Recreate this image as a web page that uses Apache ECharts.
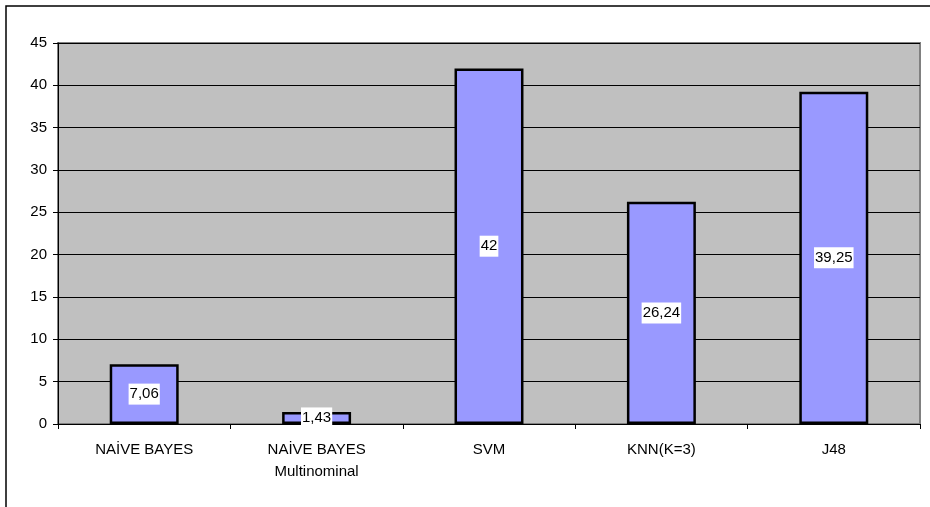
<!DOCTYPE html>
<html>
<head>
<meta charset="utf-8">
<script src="https://cdn.jsdelivr.net/npm/echarts@6/dist/echarts.min.js"></script>
<style>
  html, body { margin: 0; padding: 0; background: #fff; }
  #chart { width: 930px; height: 507px; }
</style>
</head>
<body>
<div id="chart"></div>
<script>
// Classifier names and scores
const categories = ['NAİVE BAYES', 'NAİVE BAYES\nMultinominal', 'SVM', 'KNN(K=3)', 'J48'];
const scores = [7.06, 1.43, 42, 26.24, 39.25];
const yTicks = { min: 0, max: 45, interval: 5 };

const chart = echarts.init(document.getElementById('chart'), null, { renderer: 'canvas' });

chart.setOption({
  animation: false,
  backgroundColor: '#ffffff',
  textStyle: { fontFamily: 'Liberation Sans, Arial, sans-serif' },
  graphic: [{
    type: 'rect',
    shape: { x: 6, y: 6, width: 1000, height: 1000 },
    style: { fill: 'none', stroke: '#000', lineWidth: 1.5 },
    silent: true,
    z: 100
  }],
  grid: {
    left: 58, right: 10, top: 43, bottom: 83,
    show: true,
    backgroundColor: '#C0C0C0',
    borderColor: '#808080',
    borderWidth: 2
  },
  xAxis: {
    type: 'category',
    data: categories,
    axisLine: { lineStyle: { color: '#000', width: 1 } },
    axisTick: { show: true, length: 5, inside: false, lineStyle: { color: '#000' } },
    axisLabel: {
      color: '#000', fontSize: 15, margin: 15, lineHeight: 22,
      fontFamily: 'Liberation Sans, Arial, sans-serif'
    }
  },
  yAxis: {
    type: 'value',
    min: yTicks.min, max: yTicks.max, interval: yTicks.interval,
    axisLine: { show: true, lineStyle: { color: '#000', width: 1 } },
    axisTick: { show: true, length: 5, lineStyle: { color: '#000' } },
    axisLabel: { color: '#000', fontSize: 15, margin: 11 },
    splitLine: { show: true, lineStyle: { color: '#000', width: 1 } }
  },
  series: [{
    type: 'bar',
    data: scores,
    barWidth: '40%',
    itemStyle: { color: '#9999FF', borderColor: '#000', borderWidth: 2.5 },
    label: {
      show: true,
      position: 'inside',
      color: '#000',
      fontSize: 15,
      backgroundColor: '#fff',
      padding: [3, 1, 3, 1],
      formatter: p => String(p.value).replace('.', ',')
    }
  }]
});
</script>
</body>
</html>
